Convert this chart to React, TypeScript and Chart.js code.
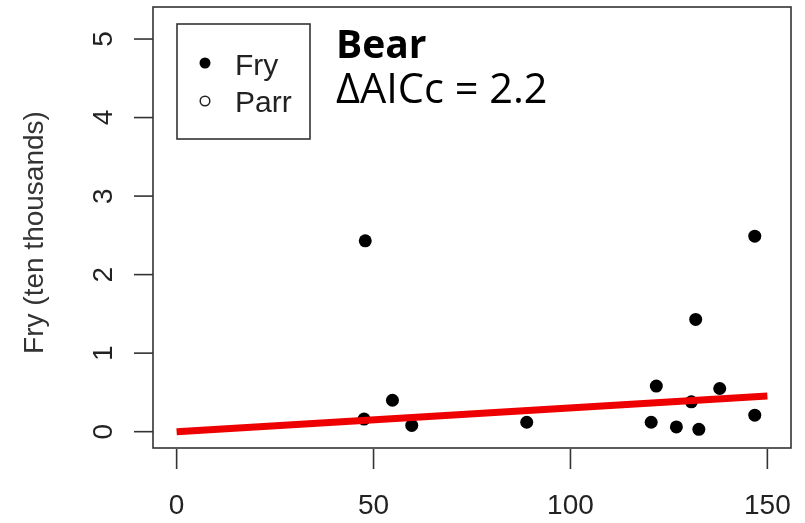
import React, { useEffect, useRef } from "react";
import { Chart, registerables } from "chart.js";

Chart.register(...registerables);

const xTicks = [0, 50, 100, 150];
const yTicks = [0, 1, 2, 3, 4, 5];
const fryX = [47.9, 54.8, 47.6, 59.7, 88.9, 121.8, 120.5, 126.9, 132.6, 130.7, 137.9, 146.8, 146.8, 131.8];
const fryY = [2.43, 0.4, 0.16, 0.08, 0.12, 0.58, 0.12, 0.06, 0.03, 0.38, 0.55, 0.21, 2.49, 1.43];
const parrX: number[] = [];
const parrY: number[] = [];
const fitX = [0, 150];
const fitY = [0, 0.455];
const seriesNames = ["Fry", "Parr"];
const yTitle = "Fry (ten thousands)";
const siteName = "Bear";
const aicText = "\u0394AICc = 2.2";

const axesPlugin = {
  id: "rAxes",
  afterDraw(chart: any) {
    const ctx = chart.ctx as CanvasRenderingContext2D;
    const a = chart.chartArea;
    const xs = chart.scales.x;
    const ys = chart.scales.y;
    ctx.save();
    // box
    ctx.strokeStyle = "#333";
    ctx.lineWidth = 1.6;
    ctx.strokeRect(a.left, a.top, a.right - a.left, a.bottom - a.top);
    // x ticks
    ctx.fillStyle = "#222";
    ctx.font = "28px 'Liberation Sans', Arial, sans-serif";
    ctx.textAlign = "center";
    ctx.textBaseline = "middle";
    ctx.lineWidth = 1.6;
    xTicks.forEach((v) => {
      const px = xs.getPixelForValue(v);
      ctx.beginPath();
      ctx.moveTo(px, a.bottom + 1);
      ctx.lineTo(px, a.bottom + 21);
      ctx.stroke();
      ctx.fillText(String(v), px, a.bottom + 58);
    });
    // y ticks
    yTicks.forEach((v) => {
      const py = ys.getPixelForValue(v);
      ctx.beginPath();
      ctx.moveTo(a.left - 19, py);
      ctx.lineTo(a.left, py);
      ctx.stroke();
      ctx.save();
      ctx.translate(a.left - 49, py);
      ctx.rotate(-Math.PI / 2);
      ctx.fillText(String(v), 0, 0);
      ctx.restore();
    });
    // y title
    ctx.save();
    ctx.translate(35, (a.top + a.bottom) / 2 + 5);
    ctx.rotate(-Math.PI / 2);
    ctx.fillStyle = "#333";
    ctx.fillText(yTitle, 0, 0);
    ctx.restore();
    // legend
    ctx.strokeStyle = "#333";
    ctx.lineWidth = 1.6;
    ctx.strokeRect(177, 24, 133, 115);
    ctx.fillStyle = "#000";
    ctx.beginPath();
    ctx.arc(205, 63, 5.5, 0, Math.PI * 2);
    ctx.fill();
    ctx.strokeStyle = "#222";
    ctx.lineWidth = 1.5;
    ctx.beginPath();
    ctx.arc(205, 101, 4.8, 0, Math.PI * 2);
    ctx.stroke();
    ctx.fillStyle = "#222";
    ctx.font = "30px 'Liberation Sans', Arial, sans-serif";
    ctx.textAlign = "left";
    ctx.textBaseline = "alphabetic";
    ctx.fillText(seriesNames[0], 235, 75);
    ctx.fillText(seriesNames[1], 235, 112);
    // site annotation
    ctx.fillStyle = "#000";
    ctx.font = "bold 39px 'Open Sans', sans-serif";
    ctx.fillText(siteName, 336, 58);
    ctx.font = "41.5px 'Open Sans', sans-serif";
    ctx.fillText(aicText, 336, 103);
    ctx.restore();
  },
};

export default function App() {
  const ref = useRef<HTMLCanvasElement>(null);
  useEffect(() => {
    if (!ref.current) return;
    const chart = new Chart(ref.current, {
      type: "scatter",
      data: {
        datasets: [
          {
            label: "fit",
            data: fitX.map((x, i) => ({ x, y: fitY[i] })),
            showLine: true,
            borderColor: "#ee0000",
            borderWidth: 7,
            pointRadius: 0,
            borderCapStyle: "butt",
            order: 0,
          } as any,
          {
            label: seriesNames[0],
            data: fryX.map((x, i) => ({ x, y: fryY[i] })),
            backgroundColor: "#000",
            borderColor: "#000",
            borderWidth: 0,
            pointRadius: 6.5,
            order: 1,
          },
          {
            label: seriesNames[1],
            data: parrX.map((x, i) => ({ x, y: parrY[i] })),
            backgroundColor: "rgba(0,0,0,0)",
            borderColor: "#000",
            borderWidth: 1.5,
            pointRadius: 5,
            order: 2,
          },
        ],
      },
      options: {
        responsive: false,
        animation: false,
        layout: { padding: { left: 153, right: 14, top: 7, bottom: 75 } },
        scales: {
          x: { type: "linear", min: -6, max: 156, display: false },
          y: { type: "linear", min: -0.208, max: 5.408, display: false },
        },
        plugins: { legend: { display: false }, tooltip: { enabled: false } },
      },
      plugins: [axesPlugin],
    });
    return () => chart.destroy();
  }, []);
  return (
    <div style={{ position: "fixed", left: 0, top: 0, width: 805, height: 523, background: "#fff" }}>
      <canvas ref={ref} width={805} height={523} style={{ width: 805, height: 523, display: "block" }} />
    </div>
  );
}
